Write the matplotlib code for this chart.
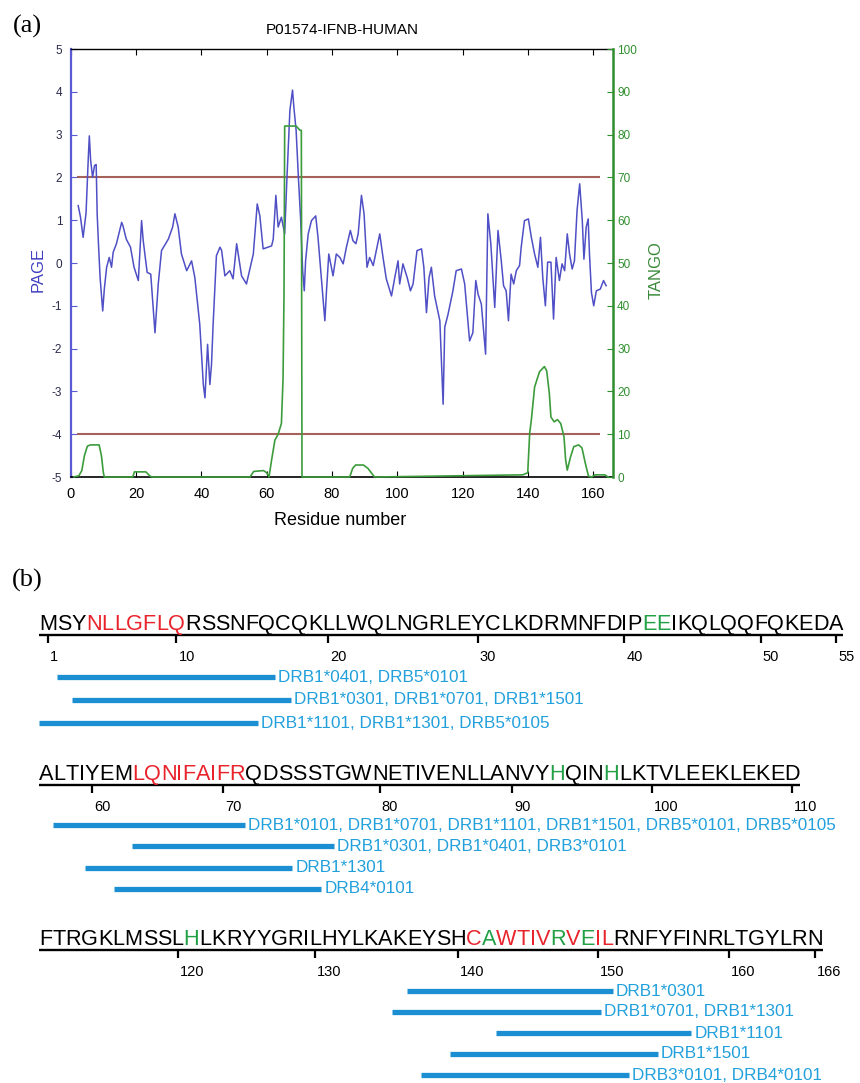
import matplotlib
matplotlib.use("Agg")
import matplotlib.pyplot as plt
from matplotlib.font_manager import FontProperties, findfont, get_font

# ---------------- data: panel (a) ----------------
page_res = [2.3, 3.0, 3.8, 4.7, 5.4, 5.7, 6.1, 6.7, 7.3, 7.8, 8.1, 8.5, 9.0, 9.8, 10.3,
            11.0, 11.8, 12.5, 13.0, 14.0, 15.6, 16.0, 17.0, 18.3, 19.4, 20.7, 21.7, 22.2,
            23.4, 24.5, 25.8, 26.8, 27.8, 29.9, 31.2, 31.9, 32.9, 33.9, 35.5, 37.0, 38.0,
            39.5, 40.6, 41.1, 41.9, 42.6, 43.1, 43.6, 44.6, 45.7, 46.2, 47.2, 48.7, 49.7,
            50.8, 52.3, 53.8, 55.9, 57.1, 57.9, 58.9, 61.5, 62.0, 62.8, 63.5, 64.5, 65.5,
            66.2, 67.1, 67.9, 68.3, 69.0, 69.7, 70.4, 71.0, 71.5, 71.9, 72.7, 73.7, 75.0,
            75.7, 76.7, 77.8, 78.3, 79.0, 80.3, 81.3, 82.4, 83.4, 84.4, 85.6, 86.4, 87.3,
            88.0, 89.0, 89.8, 90.7, 91.5, 92.6, 94.6, 95.6, 96.6, 98.2, 99.2, 100.2, 100.7,
            101.7, 103.0, 104.0, 104.8, 106.0, 107.4, 108.1, 108.9, 109.7, 110.4, 111.4,
            113.0, 114.0, 114.5, 115.5, 117.0, 118.0, 119.6, 120.6, 122.1, 123.1, 124.0,
            124.7, 125.7, 127.0, 127.7, 128.6, 129.8, 130.8, 131.8, 132.5, 133.3, 134.0,
            134.8, 135.6, 136.4, 137.4, 137.9, 138.9, 140.1, 141.0, 142.0, 143.0, 143.8,
            144.5, 145.3, 146.0, 147.0, 147.8, 148.6, 149.6, 150.4, 151.2, 152.0, 152.7,
            153.5, 154.2, 155.0, 155.8, 156.6, 157.1, 157.8, 158.4, 158.8, 159.4, 160.1,
            160.9, 162.1, 163.1, 163.9]
page_val = [1.34, 1.07, 0.60, 1.17, 2.48, 2.97, 2.40, 2.00, 2.28, 2.30, 1.15, 0.45, -0.34,
            -1.12, -0.60, -0.10, 0.13, -0.10, 0.25, 0.45, 0.95, 0.87, 0.56, 0.37, -0.10,
            -0.41, 0.99, 0.52, -0.22, -0.26, -1.63, -0.49, 0.29, 0.56, 0.84, 1.15, 0.84,
            0.21, -0.18, 0.05, -0.34, -1.43, -2.84, -3.15, -1.90, -2.84, -2.37, -1.43,
            0.17, 0.37, 0.29, -0.30, -0.18, -0.37, 0.45, -0.30, -0.49, 0.21, 1.38, 1.10,
            0.33, 0.40, 0.56, 1.58, 0.84, 1.07, 0.68, 2.00, 3.57, 4.04, 3.65, 3.10, 2.00,
            1.00, -0.18, -0.65, 0.05, 0.68, 0.99, 1.10, 0.60, -0.34, -1.35, -0.65, 0.21,
            -0.30, 0.21, 0.13, -0.02, 0.37, 0.76, 0.52, 0.45, 0.68, 1.58, 1.15, -0.10,
            0.13, -0.06, 0.68, 0.13, -0.37, -0.77, -0.34, 0.05, -0.49, -0.02, -0.34,
            -0.65, -0.49, 0.29, 0.33, -0.10, -1.16, -0.34, -0.10, -0.77, -1.35, -3.30,
            -1.50, -1.20, -0.65, -0.18, -0.14, -0.49, -1.82, -1.63, -0.41, -0.73, -0.96,
            -2.13, 1.15, 0.45, -1.04, 0.76, 0.05, -0.53, -0.65, -1.35, -0.26, -0.49,
            -0.18, -0.06, 0.37, 0.99, 1.03, 0.60, 0.21, -0.10, 0.60, -0.34, -1.00, 0.02,
            0.02, -1.31, 0.13, -0.41, -0.02, -0.18, 0.68, 0.21, -0.14, 0.05, 1.23, 1.85,
            0.99, 0.09, 0.84, 1.03, 0.21, -0.69, -1.00, -0.65, -0.61, -0.41, -0.53]

tango_res = [1.0, 2.5, 3.4, 4.2, 5.1, 6.0, 8.7, 9.4, 10.0, 10.3, 19.0, 19.5, 23.0, 24.3,
             25.0, 54.9, 56.0, 59.0, 60.0, 60.7, 61.5, 62.5, 63.5, 64.5, 65.0, 65.3, 65.5,
             69.0, 70.2, 70.6, 70.8, 85.4, 86.3, 87.2, 89.6, 91.0, 93.0, 138.4, 139.9,
             140.5, 141.0, 142.0, 143.5, 145.0, 145.7, 146.5, 147.0, 148.0, 149.0, 150.0,
             151.0, 151.5, 152.0, 153.0, 154.0, 155.5, 156.5, 157.5, 158.5, 159.5, 160.5,
             163.5, 164.5]
tango_val = [0.0, 0.3, 1.5, 5.0, 7.2, 7.5, 7.5, 5.0, 1.0, 0.0, 0.0, 1.2, 1.2, 0.2,
             0.0, 0.0, 1.3, 1.5, 1.0, 0.0, 4.0, 8.6, 10.0, 12.5, 23.0, 43.0, 82.0,
             82.0, 81.0, 81.0, 0.0, 0.0, 2.0, 2.8, 2.8, 2.0, 0.0, 0.5, 1.0,
             10.3, 13.3, 21.0, 24.6, 25.8, 24.8, 19.6, 14.0, 12.9, 13.4, 12.5,
             9.4, 4.0, 1.6, 4.7, 7.1, 7.5, 6.8, 3.3, 0.2, 0.0, 0.5,
             0.5, 0.0]

page_thresholds = [2, -4]
threshold_from, threshold_to = 2, 162
page_ticks = [-5, -4, -3, -2, -1, 0, 1, 2, 3, 4, 5]
tango_ticks = [0, 10, 20, 30, 40, 50, 60, 70, 80, 90, 100]
res_ticks = [0, 20, 40, 60, 80, 100, 120, 140, 160]
title_a = "P01574-IFNB-HUMAN"

# ---------------- data: panel (b) ----------------
seq_rows = ["MSYNLLGFLQRSSNFQCQKLLWQLNGRLEYCLKDRMNFDIPEEIKQLQQFQKEDA",
            "ALTIYEMLQNIFAIFRQDSSSTGWNETIVENLLANVYHQINHLKTVLEEKLEKED",
            "FTRGKLMSSLHLKRYYGRILHYLKAKEYSHCAWTIVRVEILRNFYFINRLTGYLRN"]
row_first = [1, 56, 111]
red_residues = [4, 5, 6, 7, 8, 9, 10, 63, 64, 65, 66, 67, 68, 69, 70, 71,
                141, 143, 144, 145, 146, 148, 150, 151]
green_residues = [42, 43, 93, 97, 121, 142, 147, 149]
row_ticks = [[1, 10, 20, 30, 40, 50, 55],
             [60, 70, 80, 90, 100, 110],
             [120, 130, 140, 150, 160, 166]]
epi_start = [[2, 3, 1], [57, 63, 60, 62], [137, 136, 143, 140, 138]]
epi_end = [[16, 17, 15], [71, 77, 74, 76], [151, 150, 157, 154, 152]]
epi_labels = [["DRB1*0401, DRB5*0101",
               "DRB1*0301, DRB1*0701, DRB1*1501",
               "DRB1*1101, DRB1*1301, DRB5*0105"],
              ["DRB1*0101, DRB1*0701, DRB1*1101, DRB1*1501, DRB5*0101, DRB5*0105",
               "DRB1*0301, DRB1*0401, DRB3*0101",
               "DRB1*1301",
               "DRB4*0101"],
              ["DRB1*0301",
               "DRB1*0701, DRB1*1301",
               "DRB1*1101",
               "DRB1*1501",
               "DRB3*0101, DRB4*0101"]]

# ---------------- styling / layout ----------------
W, H, DPI = 860, 1083, 100
SANS = ["Liberation Sans", "DejaVu Sans"]
plt.rcParams["font.family"] = SANS
plt.rcParams["axes.unicode_minus"] = False
BLUE_LINE = "#4f4fc6"
BLUE_AX = "#5a5ad2"
GREEN = "#2f8f2f"
GREEN_LINE = "#3c9c3c"
BROWN = "#a5625a"
RED_TXT = "#e8232b"
GREEN_TXT = "#21a045"
BAR_C = "#1b8fd2"
LBL_C = "#22a0dc"

fig = plt.figure(figsize=(W / DPI, H / DPI), dpi=DPI)

# ---- panel (a) ----
ax_l, ax_r, ax_t, ax_b_ = 70.7, 613.0, 49.0, 477.0
ax = fig.add_axes([ax_l / W, 1 - ax_b_ / H, (ax_r - ax_l) / W, (ax_b_ - ax_t) / H])
ax.plot(page_res, page_val, color=BLUE_LINE, lw=1.1, zorder=3)
ax.hlines(page_thresholds, threshold_from, threshold_to, color=BROWN, lw=1.5, zorder=2)
ax.set_xlim(0, 166)
ax.set_ylim(-5, 5)
ax.set_yticks(page_ticks)
ax.set_xticks(res_ticks)
ax.tick_params(axis="y", direction="in", length=4, color=BLUE_AX, labelcolor="#2a2a4a",
               labelsize=8.5, pad=6)
ax.tick_params(axis="x", direction="in", length=4, top=True, labelsize=10.5, pad=7,
               color="black")
ax.spines["left"].set_color(BLUE_AX)
ax.spines["left"].set_linewidth(1.6)
ax.spines["right"].set_visible(False)
ax.spines["top"].set_linewidth(1.0)
ax.spines["bottom"].set_linewidth(1.2)
ax.set_ylabel("PAGE", color="#4040c0", fontsize=12)
ax.yaxis.set_label_coords(-0.047, 0.484)
ax.set_xlabel("Residue number", fontsize=13)
ax.xaxis.set_label_coords(0.496, -0.082)
ax.text(0.5, 1.044, title_a, transform=ax.transAxes, ha="center", va="center",
        fontsize=11)

ax2 = ax.twinx()
ax2.plot(tango_res, tango_val, color=GREEN_LINE, lw=1.2, zorder=3, clip_on=False)
ax2.set_ylim(0, 100)
ax2.set_yticks(tango_ticks)
ax2.tick_params(axis="y", direction="in", length=4, color=GREEN, labelcolor=GREEN,
                labelsize=8.5, pad=3)
for s in ("left", "top", "bottom"):
    ax2.spines[s].set_visible(False)
ax2.spines["right"].set_color(GREEN)
ax2.spines["right"].set_linewidth(1.8)
ax2.set_ylabel("TANGO", color="#3a8a3a", fontsize=12)
ax2.yaxis.set_label_coords(1.066, 0.484)

fig.text(13 / W, 1 - 26 / H, "(a)", family=["Liberation Serif", "DejaVu Serif"],
         fontsize=19, ha="left", va="center")
fig.text(12 / W, 1 - 580 / H, "(b)", family=["Liberation Serif", "DejaVu Serif"],
         fontsize=19, ha="left", va="center")

# ---- panel (b) ----
top_b = 540
axb = fig.add_axes([0, 0, 1, (H - top_b) / H])
axb.set_xlim(0, W)
axb.set_ylim(H, top_b)
axb.axis("off")

SEQ_FS = 15.6
seq_prop = FontProperties(family=SANS, size=SEQ_FS)
ft = get_font(findfont(seq_prop))
ft.set_size(SEQ_FS, 72)


def advance_px(ch):
    g = ft.load_char(ord(ch))
    return g.linearHoriAdvance / 65536.0 * DPI / 72.0


row_x0 = 39.0
row_baseline = [630, 780, 945]
bar_first_off = [47, 45, 46]
bar_step = [23, 21.3, 21]

for r, seq in enumerate(seq_rows):
    first = row_first[r]
    lefts, widths = [], []
    x = row_x0
    for ch in seq:
        w = advance_px(ch)
        lefts.append(x)
        widths.append(w)
        x += w
    base = row_baseline[r]
    for i, ch in enumerate(seq):
        resn = first + i
        c = RED_TXT if resn in red_residues else (GREEN_TXT if resn in green_residues else "black")
        axb.text(lefts[i], base, ch, ha="left", va="baseline", color=c,
                 fontproperties=seq_prop)
    line_y = base + 5
    axb.plot([lefts[0], lefts[-1] + widths[-1]], [line_y, line_y], color="black",
             lw=1.7, solid_capstyle="butt")
    for t in row_ticks[r]:
        i = t - first
        tx = lefts[i] + widths[i] / 2
        axb.plot([tx, tx], [line_y, line_y + 8], color="black", lw=1.6,
                 solid_capstyle="butt")
        axb.text(tx + 2, line_y + 22, str(t), ha="left", va="center", fontsize=10.5)
    for k, (s, e, lab) in enumerate(zip(epi_start[r], epi_end[r], epi_labels[r])):
        y = base + bar_first_off[r] + k * bar_step[r]
        x1 = lefts[s - first]
        x2 = lefts[e - first] + widths[e - first]
        axb.plot([x1, x2], [y, y], color=BAR_C, lw=3.8, solid_capstyle="butt")
        axb.text(x2 + 3, y, lab, ha="left", va="center", color=LBL_C, fontsize=12.3)

fig.savefig("out.png", dpi=DPI)
